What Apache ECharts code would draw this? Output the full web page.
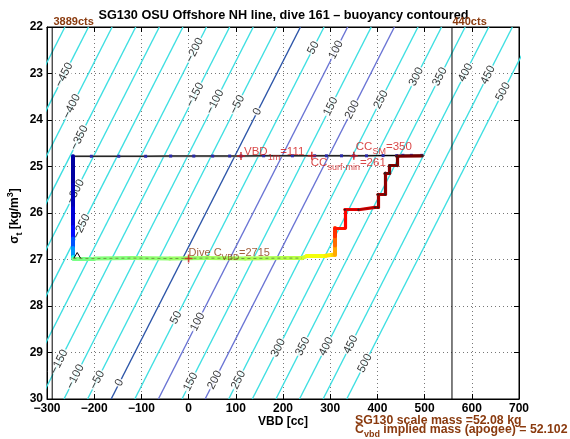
<!DOCTYPE html>
<html><head><meta charset="utf-8">
<script src="https://cdn.jsdelivr.net/npm/echarts@6/dist/echarts.min.js"></script>
<style>html,body{margin:0;padding:0;background:#fff}#c{width:570px;height:439px}</style>
</head><body><div id="c"></div>
<script>
// ---------- data ----------
const xTickValues = [-300,-200,-100,0,100,200,300,400,500,600,700];
const yTickValues = [22,23,24,25,26,27,28,29,30];

// buoyancy contours: level, VBD where the contour meets sigma=22 and sigma=30
const contourLevels       = [-500,-450,-400,-350,-300,-250,-200,-150,-100,-50,0,50,100,150,200,250,300,350,400,450,500];
const contourVBDatSigma22 = [-262,-212,-162,-112,-62,-12,38,87,137,187,237,287,337,387,436,486,536,586,636,686,736];
const contourVBDatSigma30 = [-663,-613,-563,-513,-463,-413,-363,-314,-264,-214,-164,-114,-64,-14,35,85,135,185,235,285,335];
const contourColors = ['#3fdfe2','#3fdfe2','#3fdfe2','#3fdfe2','#3fdfe2','#3fdfe2','#3fdfe2','#3fdfe2','#3fdfe2','#3fdfe2',
                       '#2c55a8','#3fdfe2','#6a74d4','#3fdfe2','#6a74d4','#3fdfe2','#3fdfe2','#3fdfe2','#3fdfe2','#3fdfe2','#3fdfe2'];

// contour label placements (level, sigma where the label sits)
const upperLabelLevels = [-450,-400,-350,-300,-250,-200,-150,-100,-50,0,50,100,150,200,250,300,350,400,450,500];
const upperLabelSigma  = [23.03,23.71,24.38,25.54,26.29,22.5,23.46,23.61,23.67,23.82,22.45,22.49,23.71,23.78,23.56,23.07,23.07,22.98,23.03,23.39];
const lowerLabelLevels = [-150,-100,-50,0,50,100,150,200,250,300,350,400,450,500];
const lowerLabelSigma  = [29.2,29.52,29.59,29.65,28.25,28.34,29.63,29.59,29.59,28.9,28.87,28.87,28.83,29.23];

// surface record (black line with blue markers)
const surfVBD   = [-245,-206,-148,-91,-38,11,51,87,111,159,220,267,292,324,350,377,412,441,454,472,494];
const surfSigma = [24.78,24.78,24.78,24.78,24.775,24.775,24.775,24.775,24.775,24.77,24.77,24.77,24.77,24.77,24.77,24.77,24.765,24.765,24.76,24.76,24.76];

// dive track (VBD, sigma) and colour position along the dive (0 start .. 1 end)
const pathVBD   = [-245,-245,-245,-245,-245,-245,-245,-244,-200,-120,-40,40,120,200,240,250,290,305,310,310,310,310,331,331,360,395,401,401,416,416,426,426,441,441,495];
const pathSigma = [24.78,25.40,25.90,26.30,26.55,26.75,26.95,26.98,26.98,26.97,26.98,26.97,26.98,26.97,26.97,26.93,26.92,26.90,26.90,26.70,26.50,26.32,26.32,25.93,25.93,25.88,25.88,25.60,25.60,25.14,25.14,24.98,24.98,24.78,24.77];
const pathT     = [0.01,0.03,0.06,0.10,0.17,0.24,0.31,0.49,0.50,0.51,0.52,0.53,0.54,0.55,0.56,0.60,0.63,0.66,0.68,0.74,0.80,0.85,0.86,0.88,0.90,0.94,0.95,0.96,0.97,0.98,0.985,0.99,0.995,1.0,1.0];

const caretVBD   = [-243,-236,-229];
const caretSigma = [26.97,26.85,26.97];

// annotations
const annotVBD   = [111,261,350,0];
const annotSigma = [24.775,24.77,24.77,26.98];
const annotName  = ['VBD','CC','CC','Dive C'];
const annotSub   = ['1m','surf-min','SM','VBD'];
const annotValue = ['=111','=261','=350','=2715'];

const ctsLineVBD  = [-289,558];
const ctsLabels   = ['3889cts','440cts'];

const titleText = 'SG130 OSU Offshore NH line, dive 161 \u2013 buoyancy contoured';
const massText  = 'SG130 scale mass =52.08 kg';
const implText  = ' implied mass (apogee) = 52.102';

// ---------- styling helpers ----------
const FONT = '"Liberation Sans", Arial, Helvetica, sans-serif';
const BROWN = '#8a3a0e';
const RED = '#d01818';
function jet(t){
  const st=[[0,[0,0,143]],[0.125,[0,0,255]],[0.375,[0,255,255]],[0.625,[255,255,0]],[0.875,[255,0,0]],[1,[128,0,0]]];
  for(let i=1;i<st.length;i++){
    if(t<=st[i][0]){
      const a=st[i-1],b=st[i],f=(t-a[0])/(b[0]-a[0]);
      const c=a[1].map((v,k)=>Math.round(v+(b[1][k]-v)*f));
      return 'rgb('+c.join(',')+')';
    }
  }
  return 'rgb(128,0,0)';
}
function vbdOnContour(level, sigma){
  const i = contourLevels.indexOf(level);
  const f = (sigma-22)/8;
  return contourVBDatSigma22[i] + f*(contourVBDatSigma30[i]-contourVBDatSigma22[i]);
}

const series = [];
contourLevels.forEach((lv,i)=>{
  series.push({type:'line', data:[[contourVBDatSigma22[i],22],[contourVBDatSigma30[i],30]],
    symbol:'none', lineStyle:{color:contourColors[i], width:1.4}, silent:true, z:1, clip:true});
});
const labelData = [];
upperLabelLevels.forEach((lv,i)=>labelData.push([vbdOnContour(lv,upperLabelSigma[i]),upperLabelSigma[i],String(lv)]));
lowerLabelLevels.forEach((lv,i)=>labelData.push([vbdOnContour(lv,lowerLabelSigma[i]),lowerLabelSigma[i],String(lv)]));
series.push({type:'scatter', data:labelData, symbol:'circle', symbolSize:1, itemStyle:{color:'rgba(0,0,0,0)'}, silent:true, z:2,
  labelLayout:{hideOverlap:false},
  label:{show:true, position:'inside', formatter:p=>p.value[2].replace('-','\u2212'), rotate:63, color:'#000',
    fontSize:11.5, fontFamily:FONT, backgroundColor:'#fff', padding:[0,1]}});

ctsLineVBD.forEach(v=>{
  series.push({type:'line', data:[[v,22],[v,30]], symbol:'none', lineStyle:{color:'#000', width:1}, silent:true, z:3});
});

// surface record
series.push({type:'line', data:surfVBD.map((v,i)=>[v,surfSigma[i]]), symbol:'none',
  lineStyle:{color:'#9a9a9a', width:2.2}, z:4, silent:true});
series.push({type:'line', data:surfVBD.map((v,i)=>[v,surfSigma[i]]), symbol:'rect', symbolSize:3, showSymbol:true,
  itemStyle:{color:'#2a2aa8'}, lineStyle:{color:'#000', width:1.1}, z:5, silent:true});

// dive track segments coloured along the dive
const segs=[];
for(let i=0;i<pathVBD.length-1;i++){
  segs.push({coords:[[pathVBD[i],pathSigma[i]],[pathVBD[i+1],pathSigma[i+1]]],
    lineStyle:{color:jet((pathT[i]+pathT[i+1])/2), width: i<21?4:3.2}});
}
series.push({type:'lines', coordinateSystem:'cartesian2d', data:segs, polyline:false, silent:true, z:6,
  lineStyle:{cap:'round', join:'round', opacity:1}});
// thin dashed centre on apogee part, dots on the dark red climb
series.push({type:'line', data:pathVBD.slice(7,15).map((v,i)=>[v,pathSigma[7+i]]), symbol:'none',
  lineStyle:{color:'#6f9c46', width:1, type:[3,3]}, z:7, silent:true});
series.push({type:'line', data:pathVBD.slice(23).map((v,i)=>[v,pathSigma[23+i]]), symbol:'circle', symbolSize:2, showSymbol:true,
  itemStyle:{color:'#222'}, lineStyle:{color:'#300', width:0.5, opacity:0.6}, z:7, silent:true});
series.push({type:'line', data:caretVBD.map((v,i)=>[v,caretSigma[i]]), symbol:'none',
  lineStyle:{color:'#000', width:1}, z:8, silent:true});

// annotations with + markers
const rich = {
  r:{color:RED, fontSize:11.5, fontFamily:FONT},
  rs:{color:RED, fontSize:9, fontFamily:FONT, padding:[10,0,0,0]},
  b:{color:BROWN, fontSize:11, fontFamily:FONT},
  bs:{color:BROWN, fontSize:8.5, fontFamily:FONT, padding:[10,0,0,0]}
};
const annotOffsets = [[3,-4],[-1,7],[2,-9],[0,-6]];
const annotData = annotVBD.map((v,i)=>{
  const k = i===3?'b':'r';
  return {value:[v,annotSigma[i]], label:{show:true, position:'inside', align:'left', verticalAlign:'middle',
    offset:annotOffsets[i], formatter:'{'+k+'|'+annotName[i]+'}{'+k+'s|'+annotSub[i]+'}{'+k+'|'+annotValue[i]+'}', rich:rich}};
});
series.push({type:'scatter', data:annotData, symbol:'path://M4,0h2v4h4v2h-4v4h-2v-4h-4v-2h4z', symbolSize:8,
  itemStyle:{color:RED}, z:9, silent:true});

const axisCommon = {
  type:'value',
  axisLine:{show:true, onZero:false, lineStyle:{color:'#000', width:1}},
  axisTick:{show:true, inside:true, length:5, lineStyle:{color:'#000'}},
};
const option = {
  animation:false,
  backgroundColor:'#fff',
  grid:{left:47, right:51, top:27, bottom:40, show:true, borderColor:'#000', borderWidth:1, backgroundColor:'#fff'},
  xAxis:[
    Object.assign({}, axisCommon, {position:'bottom', min:xTickValues[0], max:xTickValues[xTickValues.length-1], interval:100,
      axisLabel:{color:'#000', fontWeight:'bold', fontSize:12, fontFamily:FONT, margin:4, formatter:v=>String(v).replace('-','\u2212')},
      splitLine:{show:true, lineStyle:{color:'#777', width:1, type:[1,3]}}}),
    Object.assign({}, axisCommon, {position:'top', min:xTickValues[0], max:xTickValues[xTickValues.length-1], interval:100,
      axisLabel:{show:false}, splitLine:{show:false}})
  ],
  yAxis:[
    Object.assign({}, axisCommon, {position:'left', inverse:true, min:yTickValues[0], max:yTickValues[yTickValues.length-1], interval:1,
      axisLabel:{color:'#000', fontWeight:'bold', fontSize:12, fontFamily:FONT, margin:4},
      splitLine:{show:true, lineStyle:{color:'#777', width:1, type:[1,3]}}}),
    Object.assign({}, axisCommon, {position:'right', inverse:true, min:yTickValues[0], max:yTickValues[yTickValues.length-1], interval:1,
      axisLabel:{show:false}, splitLine:{show:false}})
  ],
  series:series,
  graphic:[
    {type:'text', x:283.5, y:15.5, style:{text:titleText, font:'bold 12.7px '+FONT, fill:'#000', align:'center', verticalAlign:'middle'}},
    {type:'text', x:283, y:422, style:{text:'VBD [cc]', font:'bold 12px '+FONT, fill:'#000', align:'center', verticalAlign:'middle'}},
    {type:'text', x:15, y:216, rotation:Math.PI/2, style:{text:'{a|\u03c3}{s|t}{a| [kg/m}{p|3}{a|]}', align:'center', verticalAlign:'middle',
      rich:{a:{font:'bold 12px '+FONT, fill:'#000'}, s:{font:'bold 9px '+FONT, fill:'#000', padding:[9,0,0,0]}, p:{font:'bold 9px '+FONT, fill:'#000', padding:[0,0,8,0]}}}},
    {type:'text', x:53.5, y:22, style:{text:ctsLabels[0], font:'bold 11px '+FONT, fill:BROWN, align:'left', verticalAlign:'middle'}},
    {type:'text', x:452.5, y:22, style:{text:ctsLabels[1], font:'bold 11px '+FONT, fill:BROWN, align:'left', verticalAlign:'middle'}},
    {type:'text', x:355, y:421, style:{text:massText, font:'bold 12.3px '+FONT, fill:BROWN, align:'left', verticalAlign:'middle'}},
    {type:'text', x:355, y:430, style:{text:'{a|C}{s|vbd}{a|'+implText+'}', align:'left', verticalAlign:'middle',
      rich:{a:{font:'bold 12.3px '+FONT, fill:BROWN}, s:{font:'bold 9px '+FONT, fill:BROWN, padding:[10,0,0,0]}}}}
  ]
};
const chart = echarts.init(document.getElementById('c'));
chart.setOption(option);
</script></body></html>
